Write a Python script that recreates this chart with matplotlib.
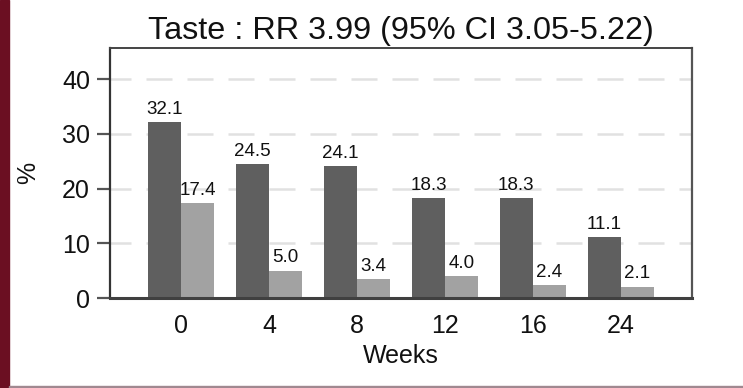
import matplotlib
matplotlib.use("Agg")
import matplotlib.pyplot as plt
import numpy as np
from matplotlib.patches import Rectangle

plt.rcParams['font.family'] = ['Liberation Sans', 'DejaVu Sans']

# Data
weeks = ["0", "4", "8", "12", "16", "24"]
group_a = [32.1, 24.5, 24.1, 18.3, 18.3, 11.1]
group_b = [17.4, 5.0, 3.4, 4.0, 2.4, 2.1]
title = "Taste : RR 3.99 (95% CI 3.05-5.22)"
y_ticks = [0, 10, 20, 30, 40]

W, H, DPI = 743, 388, 100
fig = plt.figure(figsize=(W / DPI, H / DPI), dpi=DPI)
ax = fig.add_axes([110 / W, 1 - 298 / H, (692 - 110) / W, (298 - 48) / H])

x = np.arange(len(weeks))
bw = 0.376
dark, light = "#5f5f5f", "#a2a2a2"

# dashed horizontal grid behind the bars
lw = 1.8
for yv in y_ticks[1:]:
    ax.axhline(yv, color="#e1e1e1", lw=lw, zorder=0,
               linestyle=(2, (26 * 0.72 / lw, 15 * 0.72 / lw)))

bars_a = ax.bar(x - bw / 2, group_a, width=bw, color=dark, zorder=2)
bars_b = ax.bar(x + bw / 2, group_b, width=bw, color=light, zorder=2)

for bars, vals in ((bars_a, group_a), (bars_b, group_b)):
    for b, v in zip(bars, vals):
        ax.annotate(f"{v:.1f}", (b.get_x() + b.get_width() / 2, v),
                    xytext=(0, 3), textcoords="offset points",
                    ha="center", va="bottom", fontsize=13.5, color="#111111")

ax.set_xlim(-0.81, 5.81)
ax.set_ylim(0, 45.7)
ax.set_xticks(x)
ax.set_xticklabels(weeks)
ax.set_yticks(y_ticks)

ax.tick_params(axis="x", length=0, pad=11.5, labelsize=18, labelcolor="#111111")
ax.tick_params(axis="y", length=9.4, width=1.6, color="#555555", pad=5,
               labelsize=18, labelcolor="#111111")

ax.spines["left"].set_linewidth(1.6)
ax.spines["left"].set_color("#333333")
ax.spines["bottom"].set_linewidth(2.2)
ax.spines["bottom"].set_color("#404040")
ax.spines["top"].set_linewidth(1.4)
ax.spines["top"].set_color("#444444")
ax.spines["right"].set_linewidth(1.6)
ax.spines["right"].set_color("#555555")

ax.set_title(title, fontsize=23.3, pad=6.5, color="#111111")
ax.set_xlabel("Weeks", fontsize=18, labelpad=4.5, color="#111111")
ax.set_ylabel("%", fontsize=18, labelpad=16, color="#111111")

# page border decorations
fig.patches.append(Rectangle((0, 0), 9 / W, 1, transform=fig.transFigure,
                             color="#6b0f22", zorder=5))
fig.patches.append(Rectangle((9 / W, 0), 1, 2 / H, transform=fig.transFigure,
                             color="#a08890", zorder=5))

fig.savefig("out.png", dpi=DPI)
